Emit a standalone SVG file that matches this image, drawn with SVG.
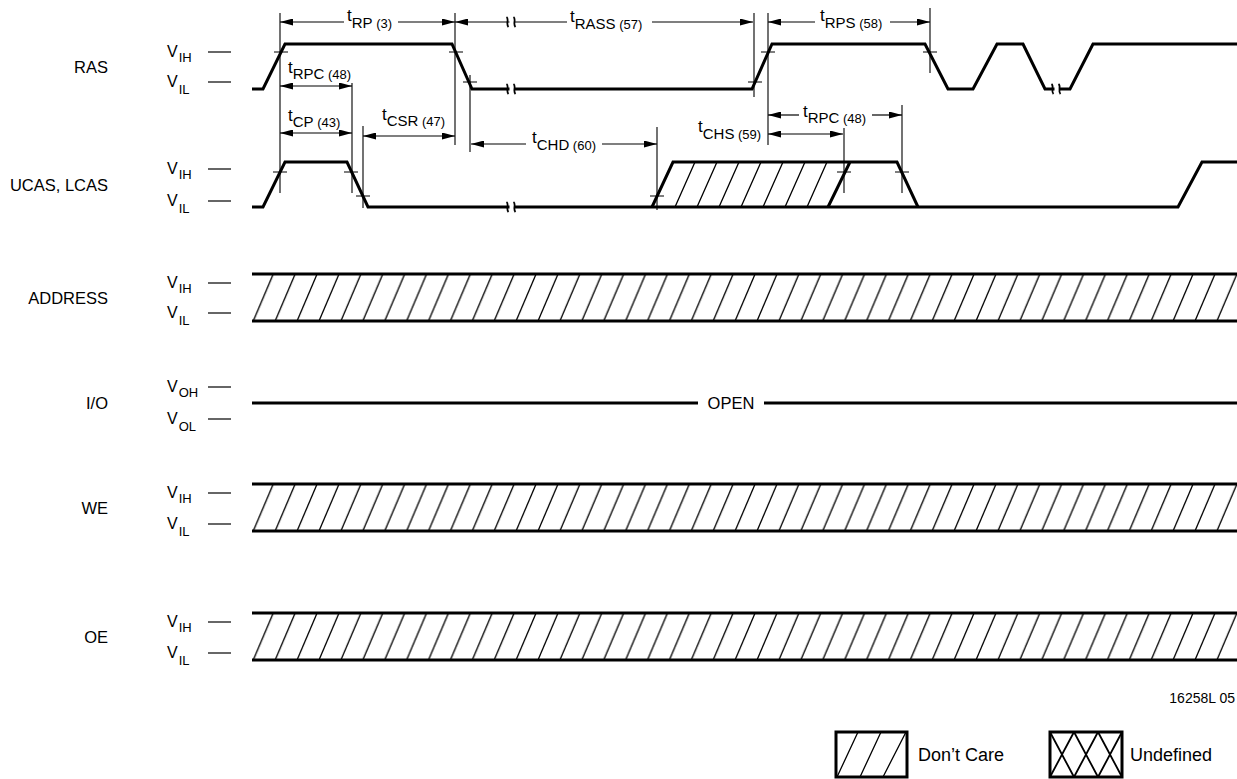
<svg xmlns="http://www.w3.org/2000/svg" xmlns:xlink="http://www.w3.org/1999/xlink" width="1237" height="779" viewBox="0 0 1237 779">
<style>
text{font-family:"Liberation Sans",Arial,sans-serif;fill:#000}
.lbl{font-size:16.5px;text-anchor:end}
.v{font-size:16px}
.vs{font-size:13px}
.tt{font-size:17px}
.ts{font-size:15px}
.tp{font-size:13px}
.w{fill:none;stroke:#000;stroke-width:3;stroke-linejoin:miter}
.d{stroke:#000;stroke-width:1.2}
.g{stroke:#000;stroke-width:1.1;fill:none}
.h{stroke:#000;stroke-width:1.3}
.a{stroke:#000;stroke-width:1.2;fill:none;marker-end:url(#ah)}
.aa{stroke:#000;stroke-width:1.2;fill:none;marker-start:url(#ah);marker-end:url(#ah)}
.leg{font-size:18px}
</style>
<defs>
<marker id="ah" viewBox="0 0 13 7" refX="13" refY="3.5" markerWidth="13" markerHeight="7" markerUnits="userSpaceOnUse" orient="auto-start-reverse"><path d="M0,0 L13,3.5 L0,7 z" fill="#000"/></marker>
<pattern id="hatch" patternUnits="userSpaceOnUse" x="252.3" y="0" width="21.9" height="47"><line x1="1" y1="47" x2="21" y2="0" stroke="#000" stroke-width="1.3"/></pattern>
<g id="brk"><rect x="-2.5" y="-4" width="5" height="8" fill="#fff"/><path d="M-5.5,-5 c3,2 -1,7 2,10 M1.5,-5 c3,2 -1,7 2,10" fill="none" stroke="#000" stroke-width="1.8"/></g>
</defs>
<rect width="1237" height="779" fill="#fff"/>

<g id="ras">
<text class="lbl" x="108" y="73">RAS</text>
<text class="v" x="167" y="56.5">V<tspan class="vs" dx="1" dy="5">IH</tspan></text>
<text class="v" x="167" y="87">V<tspan class="vs" dx="1" dy="7">IL</tspan></text>
<line class="d" x1="208" y1="52" x2="231" y2="52"/>
<line class="d" x1="208" y1="82" x2="231" y2="82"/>
<polyline class="w" points="252,89 263,89 285,44 452,44 472,89 752,89 772,44 925,44 948,89 973,89 997,44 1023,44 1045,89 1070,89 1093,44 1237,44"/>
<use xlink:href="#brk" x="512" y="89"/>
<use xlink:href="#brk" x="1057" y="89"/>
</g>

<g id="ucas">
<text class="lbl" x="108" y="191">UCAS, LCAS</text>
<text class="v" x="167" y="173.5">V<tspan class="vs" dx="1" dy="5">IH</tspan></text>
<text class="v" x="167" y="206">V<tspan class="vs" dx="1" dy="7">IL</tspan></text>
<line class="d" x1="208" y1="169" x2="231" y2="169"/>
<line class="d" x1="208" y1="201" x2="231" y2="201"/>
<polyline class="w" points="252,207 263,207 285,162 347,162 368,207 1178,207 1202,162 1237,162"/>
<path class="w" d="M652,207 L673,162 L897,162 L918,207 M828,207 L850,162"/>
<path class="h" d="M675,207 l20,-45 M697,207 l20,-45 M719,207 l20,-45 M741,207 l20,-45 M763,207 l20,-45 M785,207 l20,-45 M807,207 l20,-45"/>
<use xlink:href="#brk" x="512" y="207"/>
</g>

<g id="address">
<text class="lbl" x="108" y="304">ADDRESS</text>
<text class="v" x="167" y="287.5">V<tspan class="vs" dx="1" dy="5">IH</tspan></text>
<text class="v" x="167" y="318">V<tspan class="vs" dx="1" dy="7">IL</tspan></text>
<line class="d" x1="208" y1="283" x2="231" y2="283"/>
<line class="d" x1="208" y1="313" x2="231" y2="313"/>
<g transform="translate(0,274)">
<rect x="252" y="0" width="985" height="47" fill="url(#hatch)"/>
<path class="w" d="M252,0 H1237 M252,47 H1237"/>
</g>
</g>

<g id="io">
<text class="lbl" x="108" y="409">I/O</text>
<text class="v" x="167" y="391.5">V<tspan class="vs" dx="1" dy="5">OH</tspan></text>
<text class="v" x="167" y="423.5">V<tspan class="vs" dx="1" dy="7">OL</tspan></text>
<line class="d" x1="208" y1="387" x2="231" y2="387"/>
<line class="d" x1="208" y1="419" x2="231" y2="419"/>
<path class="w" d="M252,403 H698 M764,403 H1237"/>
<text x="731" y="409" font-size="16.5" text-anchor="middle">OPEN</text>
</g>

<g id="we">
<text class="lbl" x="108" y="514">WE</text>
<text class="v" x="167" y="497.5">V<tspan class="vs" dx="1" dy="5">IH</tspan></text>
<text class="v" x="167" y="529">V<tspan class="vs" dx="1" dy="7">IL</tspan></text>
<line class="d" x1="208" y1="493" x2="231" y2="493"/>
<line class="d" x1="208" y1="524" x2="231" y2="524"/>
<g transform="translate(0,484)">
<rect x="252" y="0" width="985" height="47" fill="url(#hatch)"/>
<path class="w" d="M252,0 H1237 M252,47 H1237"/>
</g>
</g>

<g id="oe">
<text class="lbl" x="108" y="643">OE</text>
<text class="v" x="167" y="626.5">V<tspan class="vs" dx="1" dy="5">IH</tspan></text>
<text class="v" x="167" y="658">V<tspan class="vs" dx="1" dy="7">IL</tspan></text>
<line class="d" x1="208" y1="622" x2="231" y2="622"/>
<line class="d" x1="208" y1="653" x2="231" y2="653"/>
<g transform="translate(0,613)">
<rect x="252" y="0" width="985" height="47" fill="url(#hatch)"/>
<path class="w" d="M252,0 H1237 M252,47 H1237"/>
</g>
</g>

<g id="connectors">
<path class="g" d="M280,13 V193 M455,13 V145 M352,83 V193 M363,126 V208 M470,75 V152 M657,127 V210 M754,13 V97 M768,13 V145 M930,8 V73 M902,105 V193 M844,128 V193"/>
<path class="d" d="M274,52 h14 M449,52 h14 M463,82 h14 M748,82 h14 M761,52 h14 M923,52 h14 M273,172 h14 M344,172 h14 M356,196 h14 M650,196 h14 M837,172 h14 M895,172 h14"/>
<line class="a" x1="344" y1="22" x2="280" y2="22"/>
<line class="a" x1="398" y1="22" x2="455" y2="22"/>
<text class="tt" x="347" y="21">t<tspan class="ts" dy="7">RP</tspan><tspan class="tp"> (3)</tspan></text>
<line class="a" x1="567" y1="22" x2="455" y2="22"/>
<line class="a" x1="652" y1="22" x2="753" y2="22"/>
<use xlink:href="#brk" x="512" y="22"/>
<text class="tt" x="570" y="22">t<tspan class="ts" dy="7">RASS</tspan><tspan class="tp"> (57)</tspan></text>
<line class="a" x1="815" y1="22" x2="768" y2="22"/>
<line class="a" x1="890" y1="22" x2="930" y2="22"/>
<text class="tt" x="820" y="21">t<tspan class="ts" dy="7">RPS</tspan><tspan class="tp"> (58)</tspan></text>
<line class="aa" x1="280" y1="86" x2="352" y2="86"/>
<text class="tt" x="288" y="73">t<tspan class="ts" dy="6">RPC</tspan><tspan class="tp"> (48)</tspan></text>
<line class="aa" x1="280" y1="133" x2="352" y2="133"/>
<text class="tt" x="288" y="121">t<tspan class="ts" dy="6">CP</tspan><tspan class="tp"> (43)</tspan></text>
<line class="aa" x1="363" y1="136" x2="455" y2="136"/>
<text class="tt" x="382" y="120">t<tspan class="ts" dy="6">CSR</tspan><tspan class="tp"> (47)</tspan></text>
<line class="a" x1="526" y1="144" x2="471" y2="144"/>
<line class="a" x1="602" y1="144" x2="657" y2="144"/>
<text class="tt" x="532" y="143">t<tspan class="ts" dy="7">CHD</tspan><tspan class="tp"> (60)</tspan></text>
<line class="aa" x1="768" y1="134" x2="843" y2="134"/>
<text class="tt" x="698" y="132">t<tspan class="ts" dy="7">CHS</tspan><tspan class="tp"> (59)</tspan></text>
<line class="a" x1="799" y1="115" x2="768" y2="115"/>
<line class="a" x1="872" y1="115" x2="902" y2="115"/>
<text class="tt" x="803" y="117">t<tspan class="ts" dy="6">RPC</tspan><tspan class="tp"> (48)</tspan></text>
</g>

<g id="legend">
<text x="1235" y="703" font-size="14" text-anchor="end">16258L 05</text>
<rect x="836" y="732" width="71" height="45" fill="none" stroke="#000" stroke-width="3"/>
<path class="h" d="M837,777 L858,732 M860,777 L881,732 M883,777 L906,732"/>
<text class="leg" x="918" y="761">Don’t Care</text>
<rect x="1050" y="732" width="72" height="45" fill="none" stroke="#000" stroke-width="3"/>
<path stroke="#000" stroke-width="1.8" fill="none" d="M1050,732 L1074,777 M1074,732 L1050,777 M1074,732 L1098,777 M1098,732 L1074,777 M1098,732 L1122,777 M1122,732 L1098,777"/>
<text class="leg" x="1130" y="761">Undefined</text>
</g>
</svg>
